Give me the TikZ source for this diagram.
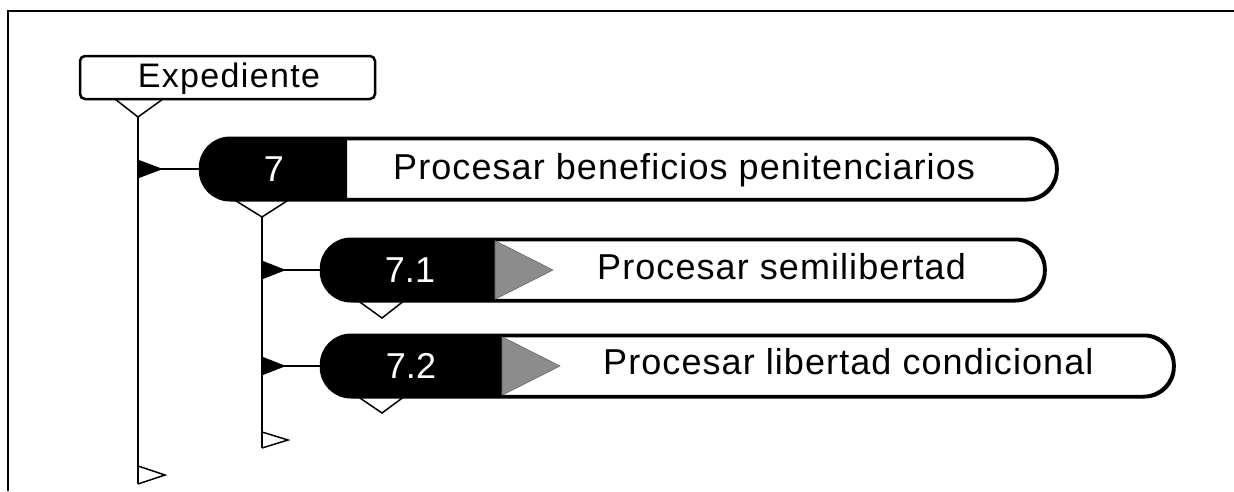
\documentclass[tikz,border=0pt]{standalone}
\usepackage{fontspec}
\setmainfont{Liberation Sans}
\usetikzlibrary{calc}
\begin{document}
\begin{tikzpicture}[x=1pt,y=-1pt,
  frame/.style={line width=2.2pt},
  pill/.style={draw, line width=2.5pt, rounded corners=30pt, fill=white, minimum height=60pt, inner sep=0pt, anchor=west},
  expbox/.style={draw, line width=2.5pt, rounded corners=5pt, minimum width=295pt, minimum height=43pt, inner sep=0pt},
  exptext/.style={anchor=base, inner sep=0pt, font=\fontsize{34}{38}\selectfont\addfontfeatures{LetterSpace=4}},
  num/.style={text=white, anchor=base, inner sep=0pt, font=\fontsize{36}{40}\selectfont},
  title/.style={anchor=base west, inner sep=0pt, font=\fontsize{36}{40}\selectfont\addfontfeatures{LetterSpace=3}},
  conn/.style={line width=1.5pt},
  blkpart/.style={fill=black},
  playtri/.style={fill=black!45, draw=black!60, line width=0.6pt}
]
\useasboundingbox (0,0) rectangle (1234,491);
% frame
\draw[frame] (1234,11) -- (8,11) -- (8,491);

% Expediente
\node[expbox] (exp) at (227.5,77.5) {};
\node[exptext] (expt) at (229,87) {Expediente};
\coordinate (a1) at (138,117);
\coordinate (e1) at (138,484);

% Pill 7
\node[pill, minimum width=855pt] (p7) at (200,169) {};
\fill[blkpart] ([xshift=147pt]p7.north west) [rounded corners=30pt] -- (p7.north west) -- (p7.south west) [sharp corners] -- ([xshift=147pt]p7.south west) -- cycle;
\draw[line width=2.5pt, rounded corners=30pt] (p7.north west) rectangle (p7.south east);
\node[num] (n7) at (274,181) {7};
\node[title] (t7) at (393,179) {Procesar beneficios penitenciarios};
\coordinate (a2) at (262,217);
\coordinate (e2) at (262,448);

% Pill 7.1
\node[pill, minimum width=722pt] (p71) at (321,270) {};
\fill[blkpart] ([xshift=174pt]p71.north west) [rounded corners=30pt] -- (p71.north west) -- (p71.south west) [sharp corners] -- ([xshift=174pt]p71.south west) -- cycle;
\draw[line width=2.5pt, rounded corners=30pt] (p71.north west) rectangle (p71.south east);
\filldraw[playtri] ([xshift=174pt,yshift=-2pt]p71.north west) -- ([xshift=232pt]p71.west) -- ([xshift=174pt,yshift=2pt]p71.south west) -- cycle;
\node[num] (n71) at (410,282) {7.1};
\node[title] (t71) at (597,279) {Procesar semilibertad};
\coordinate (b1) at (382,318);

% Pill 7.2
\node[pill, minimum width=851pt] (p72) at (321,366) {};
\fill[blkpart] ([xshift=181pt]p72.north west) [rounded corners=30pt] -- (p72.north west) -- (p72.south west) [sharp corners] -- ([xshift=181pt]p72.south west) -- cycle;
\draw[line width=2.5pt, rounded corners=30pt] (p72.north west) rectangle (p72.south east);
\filldraw[playtri] ([xshift=181pt,yshift=-2pt]p72.north west) -- ([xshift=239pt]p72.west) -- ([xshift=181pt,yshift=2pt]p72.south west) -- cycle;
\node[num] (n72) at (411,378) {7.2};
\node[title] (t72) at (603,374) {Procesar libertad condicional};
\coordinate (b2) at (382,413);

% open V markers under boxes
\draw[conn] ($(a1)+(-23,-18)$) -- (a1) -- ($(a1)+(25,-18)$);
\draw[conn] ($(a2)+(-29,-18)$) -- (a2) -- ($(a2)+(28,-18)$);
\draw[conn] ($(b1)+(-25,-18)$) -- (b1) -- ($(b1)+(23,-18)$);
\draw[conn] ($(b2)+(-25,-17)$) -- (b2) -- ($(b2)+(23,-17)$);

% trunk lines
\draw[conn] (a1) -- (e1);
\draw[conn] (a2) -- (e2);
% end flags
\draw[conn] ($(e1)+(0,-18)$) -- ($(e1)+(27,-9)$) -- (e1);
\draw[conn] ($(e2)+(0,-16)$) -- ($(e2)+(26,-8)$) -- (e2);

% branch connectors
\coordinate (j1) at (a1 |- p7.west);
\fill ($(j1)+(1,-9)$) -- ($(j1)+(25,0)$) -- ($(j1)+(1,9)$) -- cycle;
\draw[conn] (j1) -- (p7.west);
\coordinate (j2) at (a2 |- p71.west);
\fill ($(j2)+(1,-9)$) -- ($(j2)+(24,0)$) -- ($(j2)+(1,9)$) -- cycle;
\draw[conn] (j2) -- (p71.west);
\coordinate (j3) at (a2 |- p72.west);
\fill ($(j3)+(1,-9)$) -- ($(j3)+(24,0)$) -- ($(j3)+(1,9)$) -- cycle;
\draw[conn] (j3) -- (p72.west);
\end{tikzpicture}
\end{document}
